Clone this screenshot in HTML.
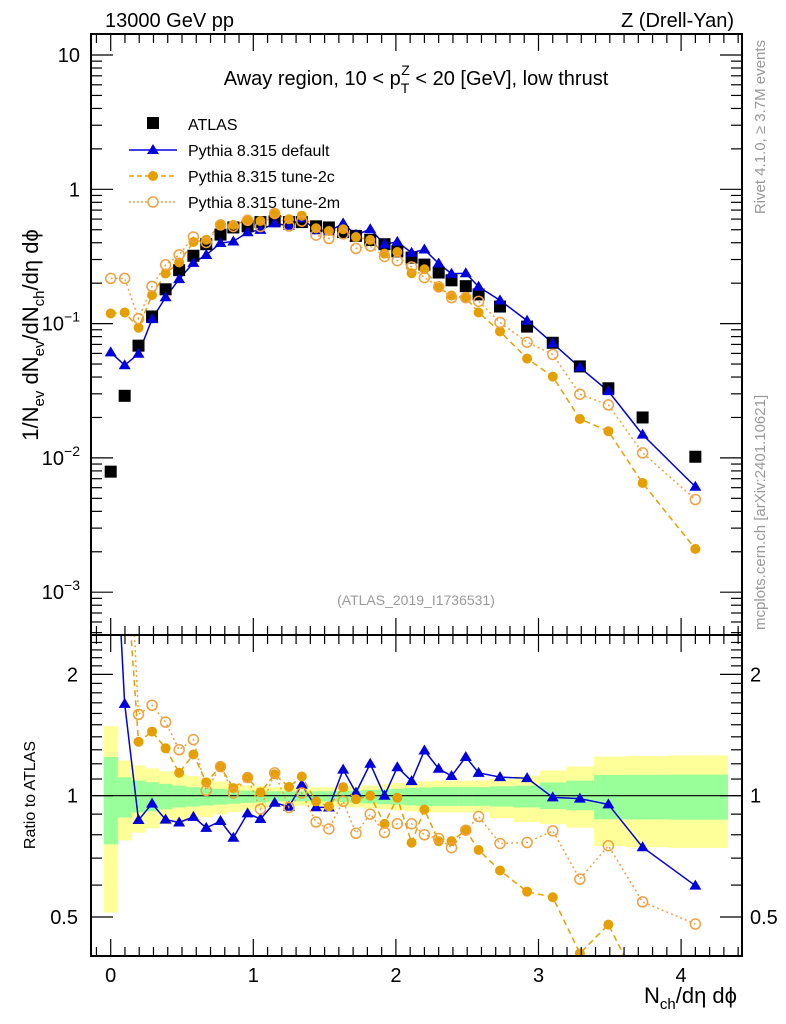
<!DOCTYPE html>
<html><head><meta charset="utf-8">
<style>
html,body{margin:0;padding:0;background:#fff;width:786px;height:1024px;overflow:hidden;}
svg{display:block;font-family:"Liberation Sans",Arial,sans-serif;}
</style></head>
<body>
<svg id="chart" width="786" height="1024" viewBox="0 0 786 1024" xmlns="http://www.w3.org/2000/svg">
<text x="105" y="27" font-size="20">13000 GeV pp</text>
<text x="734" y="27" font-size="20" text-anchor="end">Z (Drell-Yan)</text>
<text x="416" y="85" font-size="20" text-anchor="middle">Away region, 10 &lt; p<tspan font-size="14" dy="8">T</tspan><tspan font-size="14" dx="-8" dy="-18">Z</tspan><tspan dy="10"> &lt; 20 [GeV], low thrust</tspan></text>
<text transform="translate(38,335) rotate(-90)" font-size="22" text-anchor="middle">1/N<tspan font-size="15" dy="6">ev</tspan><tspan dy="-6"> dN</tspan><tspan font-size="15" dy="6">ev</tspan><tspan dy="-6">/dN</tspan><tspan font-size="15" dy="6">ch</tspan><tspan dy="-6">/dη dϕ</tspan></text>
<text transform="translate(35,795) rotate(-90)" font-size="16" text-anchor="middle">Ratio to ATLAS</text>
<text x="737" y="1003" font-size="22" text-anchor="end">N<tspan font-size="15" dy="6">ch</tspan><tspan dy="-6">/dη dϕ</tspan></text>
<text transform="translate(765,40) rotate(-90)" font-size="15" fill="#999" text-anchor="end">Rivet 4.1.0, ≥ 3.7M events</text>
<text transform="translate(765,630) rotate(-90)" font-size="15" fill="#999">mcplots.cern.ch [arXiv:2401.10621]</text>
<text x="416" y="605" font-size="14" fill="#999" text-anchor="middle">(ATLAS_2019_I1736531)</text>
<g id="bands"></g>
<g id="marks"></g>
<g id="axes"></g>
<g id="legend">
<rect x="147" y="117" width="12" height="12" fill="#000"/>
<text x="188" y="130" font-size="16">ATLAS</text>
<line x1="129" y1="150" x2="177" y2="150" stroke="#0000dd" stroke-width="1.5"/>
<polygon points="153,144 159,154 147,154" fill="#0000dd"/>
<text x="188" y="156" font-size="16">Pythia 8.315 default</text>
<line x1="129" y1="176" x2="177" y2="176" stroke="#e69f00" stroke-width="1.5" stroke-dasharray="5,3"/>
<circle cx="153" cy="176" r="5" fill="#e69f00"/>
<text x="188" y="182" font-size="16">Pythia 8.315 tune-2c</text>
<line x1="129" y1="202" x2="177" y2="202" stroke="#f0a040" stroke-width="1.5" stroke-dasharray="2,2"/>
<circle cx="153" cy="202" r="5" fill="#fff" stroke="#f0a040" stroke-width="1.5"/>
<text x="188" y="208" font-size="16">Pythia 8.315 tune-2m</text>
</g>
</svg>
<script>
const xVals = [0,0.098,0.195,0.29,0.385,0.48,0.58,0.67,0.77,0.86,0.96,1.05,1.15,1.25,1.34,1.44,1.53,1.63,1.72,1.82,1.92,2.01,2.11,2.2,2.3,2.39,2.49,2.58,2.73,2.92,3.1,3.29,3.49,3.73,4.1];
const atlas = [0.0079,0.029,0.0685,0.113,0.18,0.25,0.32,0.39,0.46,0.52,0.53,0.57,0.58,0.57,0.57,0.53,0.52,0.48,0.45,0.42,0.39,0.345,0.31,0.275,0.24,0.21,0.19,0.165,0.134,0.095,0.072,0.048,0.033,0.020,0.0102];
const pyDefault = [0.061,0.049,0.0596,0.108,0.157,0.2145,0.2835,0.3245,0.398,0.409,0.479,0.499,0.557,0.535,0.607,0.496,0.486,0.557,0.458,0.504,0.39,0.406,0.337,0.356,0.280,0.235,0.237,0.188,0.149,0.105,0.0713,0.0472,0.0314,0.0149,0.0061];
const pyTune2c = [0.119,0.121,0.0932,0.163,0.236,0.285,0.405,0.421,0.543,0.543,0.587,0.581,0.655,0.599,0.636,0.513,0.489,0.504,0.441,0.42,0.332,0.341,0.237,0.254,0.185,0.162,0.156,0.121,0.0874,0.0549,0.0403,0.0195,0.0158,0.0065,0.0021];
const pyTune2m = [0.217,0.217,0.109,0.1895,0.274,0.325,0.441,0.402,0.543,0.528,0.588,0.528,0.661,0.533,0.579,0.456,0.43,0.465,0.363,0.378,0.316,0.294,0.264,0.22,0.188,0.156,0.156,0.1465,0.102,0.0727,0.0589,0.0298,0.0248,0.0109,0.0049];
const yellowHi = [1.488,1.223,1.189,1.17,1.15,1.133,1.12,1.10,1.085,1.07,1.06,1.055,1.05,1.049,1.049,1.049,1.049,1.05,1.055,1.06,1.07,1.075,1.08,1.085,1.09,1.09,1.09,1.09,1.10,1.12,1.155,1.182,1.251,1.255,1.259];
const yellowLo = [0.513,0.775,0.81,0.83,0.85,0.86,0.87,0.885,0.9,0.91,0.92,0.93,0.94,0.944,0.944,0.944,0.944,0.94,0.935,0.93,0.925,0.92,0.915,0.91,0.909,0.909,0.909,0.909,0.88,0.86,0.85,0.833,0.75,0.745,0.742];
const greenHi = [1.247,1.111,1.09,1.08,1.07,1.059,1.05,1.045,1.04,1.035,1.03,1.028,1.025,1.025,1.025,1.025,1.025,1.027,1.03,1.033,1.036,1.04,1.045,1.048,1.05,1.05,1.05,1.05,1.055,1.059,1.079,1.09,1.126,1.127,1.128];
const greenLo = [0.757,0.883,0.909,0.915,0.925,0.935,0.94,0.945,0.95,0.955,0.96,0.963,0.968,0.968,0.968,0.968,0.968,0.965,0.96,0.957,0.953,0.95,0.946,0.944,0.944,0.944,0.944,0.944,0.94,0.935,0.926,0.92,0.874,0.873,0.872];
const mainTicks = ["10","1","10^-1","10^-2","10^-3"];
const ratioTicks = ["2","1","0.5"];
const xTicks = ["0","1","2","3","4"];

const NS="http://www.w3.org/2000/svg";
const L=91,R=742,T=34,MB=635,RB=956;
const X=v=>110.7+v*142.6;
const YM=v=>55+(1-Math.log10(v))*134.3;
const YR=v=>795.7-Math.log10(v)*403;
function mk(tag,parent,attrs){const e=document.createElementNS(NS,tag);for(const k in attrs)e.setAttribute(k,attrs[k]);parent.appendChild(e);return e;}
const bands=document.getElementById('bands'),marks=document.getElementById('marks'),axes=document.getElementById('axes');

const edges=[];
for(let i=0;i<=xVals.length;i++){
  if(i===0) edges.push(xVals[0]-(xVals[1]-xVals[0])/2);
  else if(i===xVals.length) edges.push(xVals[i-1]+(xVals[i-1]-xVals[i-2])/2+0.04);
  else edges.push((xVals[i-1]+xVals[i])/2);
}
function clipR(v){return Math.max(MB,Math.min(RB,YR(v)));}
for(let i=0;i<xVals.length;i++){
  const y=mk('rect',bands,{x:X(edges[i]),y:clipR(yellowHi[i]),width:X(edges[i+1])-X(edges[i])+0.5,height:clipR(yellowLo[i])-clipR(yellowHi[i]),fill:'#ffff99'});
  
  
  const g=mk('rect',bands,{x:X(edges[i]),y:clipR(greenHi[i]),width:X(edges[i+1])-X(edges[i])+0.5,height:clipR(greenLo[i])-clipR(greenHi[i]),fill:'#99ff99'});
  
  
}
const one=mk('line',bands,{x1:L,x2:R,y1:YR(1),y2:YR(1),stroke:'#000','stroke-width':1.2});



const defs=mk('defs',document.getElementById('chart'),{});
const c1=mk('clipPath',defs,{id:'cm'});mk('rect',c1,{x:L,y:T,width:R-L,height:MB-T});
const c2=mk('clipPath',defs,{id:'cr'});mk('rect',c2,{x:L,y:MB,width:R-L,height:RB-MB});
const gm=mk('g',marks,{'clip-path':'url(#cm)'});
const gr=mk('g',marks,{'clip-path':'url(#cr)'});

const series=[
 {vals:pyDefault,color:'#0000dd',dash:'',type:'tri',name:'default'},
 {vals:pyTune2c,color:'#e69f00',dash:'6,4',type:'dot',name:'tune-2c'},
 {vals:pyTune2m,color:'#f0a040',dash:'2,3',type:'ring',name:'tune-2m'}
];
function marker(g,type,color,cx,cy){
  let e;
  if(type==='tri') e=mk('polygon',g,{points:`${cx},${cy-6} ${cx+6},${cy+4} ${cx-6},${cy+4}`,fill:color});
  else if(type==='dot') e=mk('circle',g,{cx:cx,cy:cy,r:5,fill:color});
  else e=mk('circle',g,{cx:cx,cy:cy,r:5,fill:'none',stroke:color,'stroke-width':1.5});
  return e;
}
for(const s of series){
  const pts=s.vals.map((v,i)=>X(xVals[i])+','+YM(v)).join(' ');
  const pl=mk('polyline',gm,{points:pts,fill:'none',stroke:s.color,'stroke-width':1.5,'stroke-dasharray':s.dash});
  
  
}
atlas.forEach((v,i)=>{
  const r=mk('rect',gm,{x:X(xVals[i])-6,y:YM(v)-6,width:12,height:12,fill:'#000'});
  
  
});
for(const s of series){
  s.vals.forEach((v,i)=>{
    const m=marker(gm,s.type,s.color,X(xVals[i]),YM(v));
    
    
  });
}
for(const s of series){
  const pts=s.vals.map((v,i)=>X(xVals[i])+','+YR(v/atlas[i])).join(' ');
  const pl=mk('polyline',gr,{points:pts,fill:'none',stroke:s.color,'stroke-width':1.5,'stroke-dasharray':s.dash});
  
  
  s.vals.forEach((v,i)=>{
    const m=marker(gr,s.type,s.color,X(xVals[i]),YR(v/atlas[i]));
    
    
  });
}

function frame(y1,y2,name){
  const f=mk('rect',axes,{x:L,y:y1,width:R-L,height:y2-y1,fill:'none',stroke:'#000','stroke-width':2});
  
  
}
frame(T,MB,'main-plot-frame');frame(MB,RB,'ratio-plot-frame');
function tick(x1,y1,x2,y2){mk('line',axes,{x1:x1,y1:y1,x2:x2,y2:y2,stroke:'#000','stroke-width':1.2});}
for(let k=-1;k<=44;k++){
  const v=k/10;const x=X(v);if(x<L||x>R)continue;
  const len=(k%10===0)?17:9;
  tick(x,T,x,T+len);tick(x,MB,x,MB-len);tick(x,MB,x,MB+len);tick(x,RB,x,RB-len);
}
xTicks.forEach((t,i)=>{
  const tx=mk('text',axes,{x:X(i),y:982,'font-size':20,'text-anchor':'middle'});tx.textContent=t;
  
  
});
for(let d=-4;d<=1;d++){
  for(let m=1;m<10;m++){
    const v=m*Math.pow(10,d);const y=YM(v);if(y<T||y>MB)continue;
    const len=m===1?22:11;tick(L,y,L+len,y);tick(R,y,R-len,y);
  }
}
mainTicks.forEach((t,i)=>{
  const y=YM(Math.pow(10,1-i));
  const tx=mk('text',axes,{x:80,y:y+7,'font-size':20,'text-anchor':'end'});
  if(t.indexOf('^')>=0){const p=t.split('^');tx.innerHTML=p[0]+'<tspan font-size="14" dy="-9">'+p[1].replace('-','−')+'</tspan>';}
  else tx.textContent=t;
  
  
});
const rMinor=[0.4,0.5,0.6,0.7,0.8,0.9,1,1.1,1.2,1.3,1.4,1.5,1.6,1.7,1.8,1.9,2,2.1,2.2,2.3,2.4];
rMinor.forEach(v=>{const y=YR(v);const major=(v===0.5||v===1||v===2);const len=major?22:11;tick(L,y,L+len,y);tick(R,y,R-len,y);});
ratioTicks.forEach(t=>{
  const y=YR(parseFloat(t));
  const a=mk('text',axes,{x:78,y:y+7,'font-size':20,'text-anchor':'end'});a.textContent=t;
  
  
  const b=mk('text',axes,{x:750,y:y+7,'font-size':20});b.textContent=t;
  
  
});
</script>
</body></html>
